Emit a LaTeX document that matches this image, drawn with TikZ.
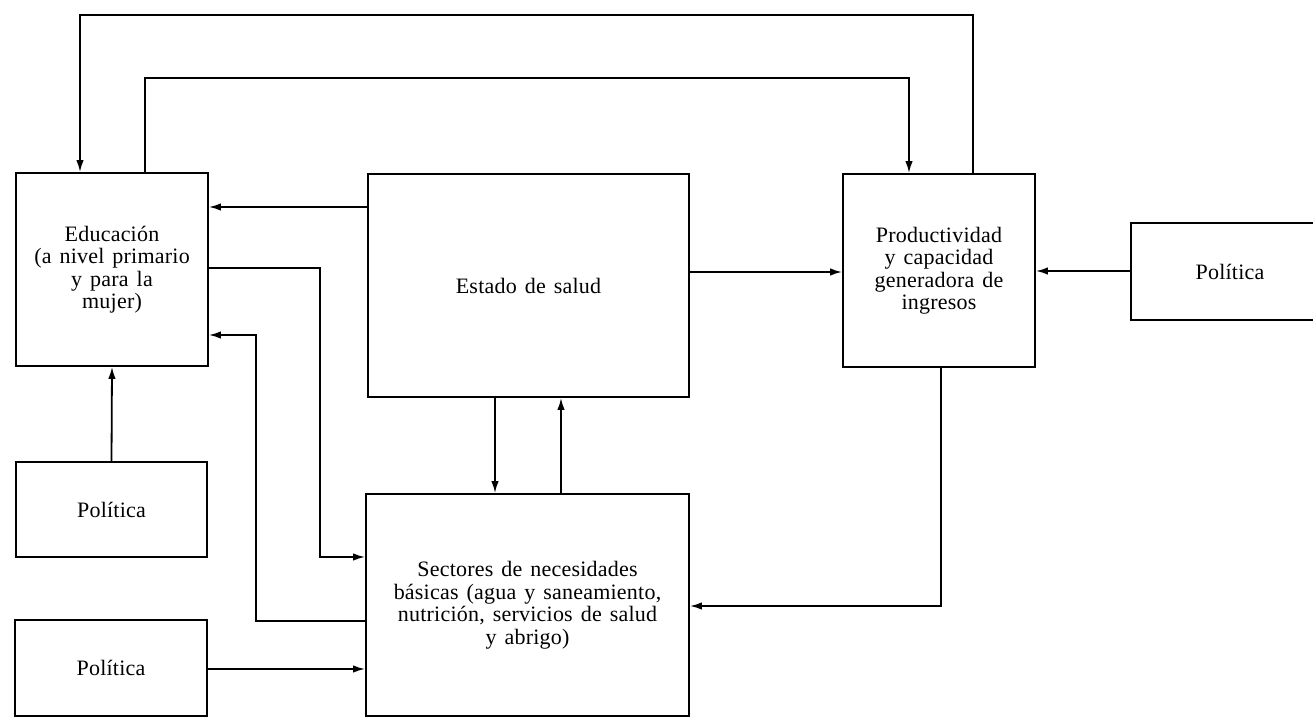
\documentclass[tikz,border=0pt]{standalone}
\usepackage{fontspec}
\setmainfont[LetterSpace=1,WordSpace=1.4]{Liberation Serif}
\usetikzlibrary{arrows.meta}
\begin{document}
\begin{tikzpicture}[x=1pt,y=-1pt,
  box/.style={draw, line width=1.8pt, align=center, inner sep=0pt,
              font=\fontsize{22}{22.5}\selectfont},
  conn/.style={line width=1.8pt},
  arr/.style={conn, -{Latex[length=12pt,width=7.5pt]}}]
\useasboundingbox (0,0) rectangle (1313,717);
\clip (0,0) rectangle (1313,717);
% boxes
\node[box, minimum width=192pt, minimum height=193pt] (edu) at (112,269.5)
  {Educación\\(a nivel primario\\y para la\\mujer)};
\node[box, minimum width=321pt, minimum height=223pt] (estado) at (528.5,285.5)
  {Estado de salud};
\node[box, minimum width=192pt, minimum height=193pt] (prod) at (939,270.5)
  {Productividad\\y capacidad\\generadora de\\ingresos};
\node[box, minimum width=198pt, minimum height=97pt] (polr) at (1230,271.5)
  {Política};
\node[box, minimum width=191pt, minimum height=95pt] (pol1) at (111.5,509.5)
  {Política};
\node[box, minimum width=192pt, minimum height=96pt] (pol2) at (111,668)
  {Política};
\node[box, minimum width=323pt, minimum height=222pt] (sect) at (527.5,605)
  {Sectores de necesidades\\básicas (agua y saneamiento,\\nutrición, servicios de salud\\y abrigo)};
% connectors
\draw[arr] (973,0 |- prod.north) -- (973,15) -- (80,15) -- (80,0 |- edu.north);
\draw[arr] (145,0 |- edu.north) -- (145,78) -- (909,78) -- (909,0 |- prod.north);
\draw[arr] (estado.west |- 0,207) -- (edu.east |- 0,207);
\draw[arr] (edu.east |- 0,268) -- (320,268) -- (320,557) -- (sect.west |- 0,557);
\draw[arr] (sect.west |- 0,621) -- (256,621) -- (256,335) -- (edu.east |- 0,335);
\draw[arr] (pol1.north) -- (edu.south);
\draw[arr] (pol2.east |- 0,669) -- (sect.west |- 0,669);
\draw[arr] (495,0 |- estado.south) -- (495,0 |- sect.north);
\draw[arr] (561,0 |- sect.north) -- (561,0 |- estado.south);
\draw[arr] (estado.east |- 0,272) -- (prod.west |- 0,272);
\draw[arr] (polr.west |- 0,271) -- (prod.east |- 0,271);
\draw[arr] (941,0 |- prod.south) -- (941,606) -- (sect.east |- 0,606);
\end{tikzpicture}
\end{document}
